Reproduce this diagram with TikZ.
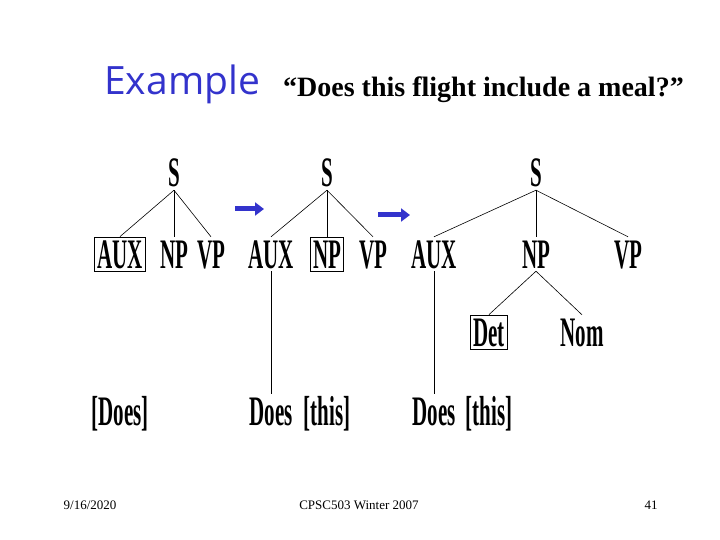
\documentclass[tikz,border=0pt]{standalone}
\usepackage{fontspec}
\setmainfont{Liberation Serif}
\newfontfamily\treefont[FakeStretch=0.5]{Liberation Serif Bold}
\newfontfamily\exfont{Open Sans}
\usetikzlibrary{arrows.meta}
\definecolor{slideblue}{RGB}{51,51,204}
\tikzset{
  tree/.style={font=\treefont\fontsize{42}{42}\selectfont, inner xsep=2.5pt, inner ysep=3pt, text height=28pt, text depth=0pt, anchor=base},
  boxed/.style={tree, draw, line width=0.8pt},
  edge/.style={line width=0.6pt},
  bigarrow/.style={slideblue, line width=5pt, -{Triangle[length=9pt,width=13pt]}},
  foot/.style={font=\fontsize{13}{13}\selectfont, anchor=base},
}
\begin{document}
\begin{tikzpicture}[x=1pt,y=-1pt]
\useasboundingbox (0,0) rectangle (720,540);
% title
\node[anchor=base west, inner sep=0, text=slideblue, font=\exfont\fontsize{39}{39}\selectfont] (ex) at (104,95) {Example};
\node[anchor=base west, inner sep=0, font=\bfseries\fontsize{28}{28}\selectfont] (q) at (283,97) {“Does this flight include a meal?”};
% tree 1
\node[tree] (s1) at (174,187) {S};
\node[boxed] (aux1) at (120,268) {AUX};
\node[tree] (np1) at (174,268) {NP};
\node[tree] (vp1) at (211,268) {VP};
\node[tree] (w1) at (120,425) {[Does]};
\draw[edge] (s1.south) -- (aux1.north);
\draw[edge] (s1.south) -- (np1.north);
\draw[edge] (s1.south) -- (vp1.north);
% arrow 1
\coordinate (a1s) at (235,209);
\coordinate (a1e) at (264,209);
\draw[bigarrow] (a1s) -- (a1e);
% tree 2
\node[tree] (s2) at (327,187) {S};
\node[tree] (aux2) at (271,268) {AUX};
\node[boxed] (np2) at (327,268) {NP};
\node[tree] (vp2) at (373,268) {VP};
\node[tree] (d2) at (271,425) {Does};
\node[tree] (t2) at (327,425) {[this]};
\draw[edge] (s2.south) -- (aux2.north);
\draw[edge] (s2.south) -- (np2.north);
\draw[edge] (s2.south) -- (vp2.north);
\draw[edge] (aux2.south) -- (d2.north);
% arrow 2
\coordinate (a2s) at (378,215);
\coordinate (a2e) at (410,215);
\draw[bigarrow] (a2s) -- (a2e);
% tree 3
\node[tree] (s3) at (536,187) {S};
\node[tree] (aux3) at (434,268) {AUX};
\node[tree] (np3) at (536,268) {NP};
\node[tree] (vp3) at (628,268) {VP};
\node[boxed] (det3) at (489,346) {Det};
\node[tree] (nom3) at (582,346) {Nom};
\node[tree] (d3) at (434,425) {Does};
\node[tree] (t3) at (489,425) {[this]};
\draw[edge] (s3.south) -- (aux3.north);
\draw[edge] (s3.south) -- (np3.north);
\draw[edge] (s3.south) -- (vp3.north);
\draw[edge] (np3.south) -- (det3.north);
\draw[edge] (np3.south) -- (nom3.north);
\draw[edge] (aux3.south) -- (d3.north);
% footer
\node[foot] (date) at (90,509) {9/16/2020};
\node[foot] (course) at (359,509) {CPSC503 Winter 2007};
\node[foot] (page) at (651,509) {41};
\end{tikzpicture}
\end{document}
